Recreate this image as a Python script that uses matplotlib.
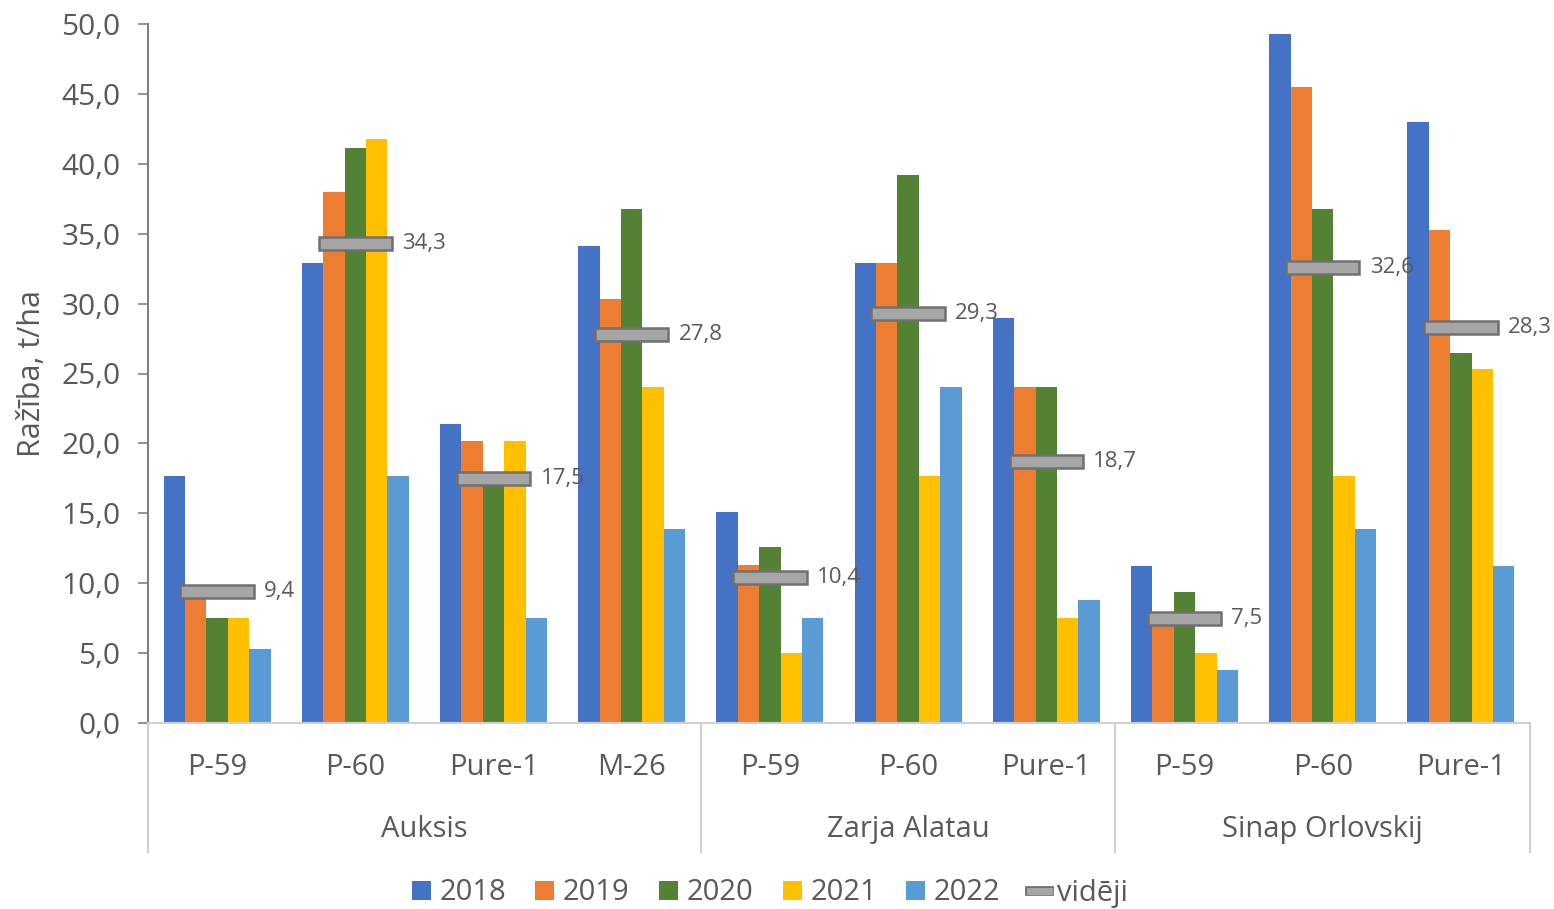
import numpy as np
import matplotlib.pyplot as plt
from matplotlib.lines import Line2D
from matplotlib.patches import Patch
import matplotlib.patheffects as pe
import matplotlib.transforms as mtransforms

plt.rcParams['font.family'] = ['Open Sans', 'DejaVu Sans']

# rootstock labels within each variety group
rootstocks = ['P-59', 'P-60', 'Pure-1', 'M-26',
              'P-59', 'P-60', 'Pure-1',
              'P-59', 'P-60', 'Pure-1']
varieties = ['Auksis', 'Zarja Alatau', 'Sinap Orlovskij']
variety_sizes = [4, 3, 3]

years = ['2018', '2019', '2020', '2021', '2022']
y2018 = [17.7, 32.9, 21.4, 34.1, 15.1, 32.9, 29.0, 11.2, 49.3, 43.0]
y2019 = [8.9, 38.0, 20.2, 30.3, 11.3, 32.9, 24.0, 7.9, 45.5, 35.3]
y2020 = [7.5, 41.1, 17.9, 36.8, 12.6, 39.2, 24.0, 9.4, 36.8, 26.5]
y2021 = [7.5, 41.8, 20.2, 24.0, 5.0, 17.7, 7.5, 5.0, 17.7, 25.3]
y2022 = [5.3, 17.7, 7.5, 13.9, 7.5, 24.0, 8.8, 3.8, 13.9, 11.2]
average = [9.4, 34.3, 17.5, 27.8, 10.4, 29.3, 18.7, 7.5, 32.6, 28.3]

colors = ['#4472C4', '#ED7D31', '#548235', '#FFC000', '#5B9BD5']
text_col = '#595959'

fig = plt.figure(figsize=(15.54, 9.09), dpi=100)
ax = fig.add_axes([148/1554, 1 - 723/909, 1382/1554, 699/909])

x = np.arange(len(rootstocks))
bw = 0.155
series = [y2018, y2019, y2020, y2021, y2022]
for i, (vals, c) in enumerate(zip(series, colors)):
    ax.bar(x + (i - 2) * bw, vals, width=bw, color=c, zorder=2)

# average markers (flat grey bars)
mh = 0.95
avg = np.array(average)
ax.bar(x, mh, bottom=avg - mh / 2, width=0.53, color='#a6a6a6',
       edgecolor='#707070', linewidth=1.8, zorder=3)
for xi, a in zip(x, average):
    ax.text(xi + 0.34, a, f'{a:.1f}'.replace('.', ','), va='center',
            ha='left', fontsize=16, color=text_col, zorder=4)

ax.set_xlim(-0.5, len(rootstocks) - 0.5)
ax.set_ylim(0, 50)
ax.set_yticks(np.arange(0, 51, 5))
ax.set_yticklabels([f'{v:.1f}'.replace('.', ',') for v in np.arange(0, 51, 5)],
                   fontsize=21.5, color=text_col)
ax.tick_params(axis='y', length=7, width=1.2, color='#7f7f7f', pad=13)
ax.set_xticks([])
for s in ['top', 'right']:
    ax.spines[s].set_visible(False)
ax.spines['left'].set_color('#7f7f7f')
ax.spines['left'].set_linewidth(1.5)
ax.spines['bottom'].set_color('#d0d0d0')
ax.spines['bottom'].set_linewidth(1.5)

ax.set_ylabel('Ražība, t/ha', fontsize=22, color=text_col, labelpad=10)

# multi-level category axis
trans = mtransforms.blended_transform_factory(ax.transData, ax.transAxes)
for xi, lab in zip(x, rootstocks):
    ax.text(xi, -0.063, lab, transform=trans, ha='center', va='center',
            fontsize=21, color=text_col)
edges = np.concatenate([[0], np.cumsum(variety_sizes)]) - 0.5
for e in edges:
    ax.plot([e, e], [0, -0.185], transform=trans, color='#d0d0d0',
            lw=1.5, clip_on=False)
for lo, hi, name in zip(edges[:-1], edges[1:], varieties):
    ax.text((lo + hi) / 2, -0.153, name, transform=trans, ha='center',
            va='center', fontsize=21, color=text_col)

handles = [Patch(facecolor=c, label=y) for c, y in zip(colors, years)]
handles.append(Line2D([0], [0], color='#a6a6a6', lw=5, label='vidēji',
                      path_effects=[pe.Stroke(linewidth=7, foreground='#6f6f6f'),
                                    pe.Normal()]))
fig.legend(handles=handles, loc='center', bbox_to_anchor=(770/1554, 1 - 893/909),
           ncol=6, frameon=False, fontsize=21, handlelength=0.65,
           handleheight=0.65, handletextpad=0.3, columnspacing=1.0,
           labelcolor=text_col)

fig.savefig('out.png', dpi=100)
